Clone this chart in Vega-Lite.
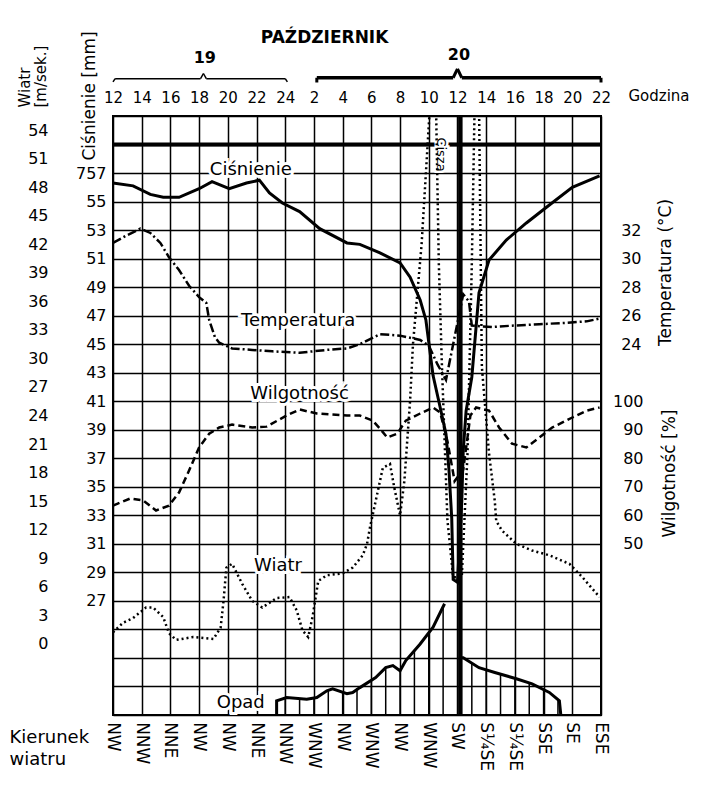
{
  "$schema": "https://vega.github.io/schema/vega-lite/v6.json",
  "width": 488,
  "height": 599,
  "autosize": {"type": "none"},
  "padding": {"left": 113, "top": 116, "right": 118, "bottom": 72},
  "background": "white",
  "config": {
    "font": "DejaVu Sans",
    "view": {"stroke": "black", "strokeWidth": 2},
    "axis": {"labelFont": "DejaVu Sans", "titleFont": "DejaVu Sans", "labelColor": "black", "titleColor": "black", "titleFontWeight": "normal", "domain": false, "ticks": false, "grid": false, "labelFontSize": 16, "titleFontSize": 17, "tickCount": 100, "labelOverlap": false, "labelFlush": false, "format": "d"},
    "text": {"font": "DejaVu Sans", "color": "black"}
  },
  "datasets": {
    "cisnienie": [{"godz":0,"mm":756.3},{"godz":1.4,"mm":756.1},{"godz":2.6,"mm":755.5},{"godz":3.5,"mm":755.3},{"godz":4.6,"mm":755.3},{"godz":6.0,"mm":755.9},{"godz":6.9,"mm":756.4},{"godz":8.1,"mm":755.9},{"godz":9.3,"mm":756.3},{"godz":10.2,"mm":756.5},{"godz":10.9,"mm":755.6},{"godz":11.8,"mm":754.9},{"godz":13.0,"mm":754.3},{"godz":14.4,"mm":753.1},{"godz":16.3,"mm":752.1},{"godz":17.2,"mm":752.0},{"godz":18.6,"mm":751.4},{"godz":20.0,"mm":750.7},{"godz":20.7,"mm":749.7},{"godz":21.4,"mm":748.1},{"godz":21.8,"mm":746.7},{"godz":22.3,"mm":742.8},{"godz":22.7,"mm":741.0},{"godz":23.2,"mm":738.7},{"godz":23.4,"mm":736.3},{"godz":23.6,"mm":732.8},{"godz":23.7,"mm":728.5},{"godz":24.0,"mm":728.3},{"godz":24.3,"mm":734.0},{"godz":24.4,"mm":737.5},{"godz":24.6,"mm":740.3},{"godz":25.0,"mm":742.7},{"godz":25.5,"mm":748.6},{"godz":26.2,"mm":750.9},{"godz":27.4,"mm":752.3},{"godz":28.8,"mm":753.5},{"godz":30.2,"mm":754.6},{"godz":32.0,"mm":756.0},{"godz":33.9,"mm":756.8}],
    "temperatura": [{"godz":0,"st":31.1},{"godz":0.9,"st":31.6},{"godz":1.9,"st":32.1},{"godz":2.6,"st":31.8},{"godz":3.3,"st":31.1},{"godz":3.9,"st":30.1},{"godz":4.6,"st":29.2},{"godz":5.3,"st":28.1},{"godz":6.0,"st":27.3},{"godz":6.5,"st":26.9},{"godz":6.7,"st":25.7},{"godz":7.1,"st":24.5},{"godz":7.4,"st":24.1},{"godz":8.3,"st":23.7},{"godz":9.7,"st":23.6},{"godz":11.1,"st":23.5},{"godz":13.0,"st":23.4},{"godz":14.9,"st":23.6},{"godz":16.3,"st":23.7},{"godz":17.2,"st":24.0},{"godz":18.6,"st":24.7},{"godz":20.0,"st":24.6},{"godz":21.4,"st":24.3},{"godz":22.0,"st":23.9},{"godz":22.6,"st":22.6},{"godz":23.2,"st":21.5},{"godz":23.8,"st":24.5},{"godz":24.4,"st":27.5},{"godz":24.8,"st":27.0},{"godz":25.0,"st":25.3},{"godz":26.4,"st":25.2},{"godz":27.8,"st":25.3},{"godz":29.7,"st":25.4},{"godz":31.6,"st":25.5},{"godz":33.0,"st":25.6},{"godz":33.9,"st":25.8}],
    "wilgotnosc": [{"godz":0,"proc":63.4},{"godz":1.2,"proc":65.9},{"godz":2.1,"proc":65.2},{"godz":3.0,"proc":61.7},{"godz":3.9,"proc":63.4},{"godz":4.6,"proc":68.0},{"godz":5.3,"proc":75.7},{"godz":6.0,"proc":83.8},{"godz":6.7,"proc":88.6},{"godz":7.4,"proc":90.8},{"godz":8.3,"proc":91.8},{"godz":9.7,"proc":90.8},{"godz":10.7,"proc":91.1},{"godz":12.1,"proc":95.0},{"godz":13.0,"proc":97.1},{"godz":14.2,"proc":95.7},{"godz":16.3,"proc":95.0},{"godz":17.2,"proc":95.0},{"godz":18.1,"proc":93.2},{"godz":18.6,"proc":90.4},{"godz":19.1,"proc":87.3},{"godz":19.8,"proc":88.6},{"godz":20.4,"proc":93.2},{"godz":21.4,"proc":95.7},{"godz":22.3,"proc":97.8},{"godz":22.8,"proc":96},{"godz":23.3,"proc":86},{"godz":23.8,"proc":72},{"godz":24.4,"proc":76},{"godz":24.9,"proc":95},{"godz":25.3,"proc":97.8},{"godz":26.2,"proc":96.7},{"godz":26.9,"proc":90.8},{"godz":27.8,"proc":85.1},{"godz":28.8,"proc":83.8},{"godz":29.7,"proc":87.3},{"godz":30.6,"proc":90.8},{"godz":32.0,"proc":94.3},{"godz":33.0,"proc":96.7},{"godz":33.9,"proc":97.8}],
    "wiatr": [{"godz":0,"ms":1.2},{"godz":0.7,"ms":2.2},{"godz":1.4,"ms":2.7},{"godz":2.3,"ms":3.8},{"godz":2.8,"ms":3.8},{"godz":3.5,"ms":2.8},{"godz":3.9,"ms":1.1},{"godz":4.4,"ms":0.4},{"godz":5.6,"ms":0.7},{"godz":7.0,"ms":0.5},{"godz":7.5,"ms":1.7},{"godz":7.7,"ms":4.5},{"godz":7.9,"ms":8.0},{"godz":8.3,"ms":8.4},{"godz":9.0,"ms":6.3},{"godz":9.7,"ms":4.5},{"godz":10.4,"ms":3.8},{"godz":11.4,"ms":4.8},{"godz":12.3,"ms":4.9},{"godz":12.8,"ms":3.5},{"godz":13.2,"ms":1.4},{"godz":13.6,"ms":0.7},{"godz":13.9,"ms":2.8},{"godz":14.3,"ms":6.6},{"godz":14.9,"ms":7.2},{"godz":16.0,"ms":7.4},{"godz":16.7,"ms":8.0},{"godz":17.4,"ms":9.3},{"godz":17.7,"ms":10.5},{"godz":17.9,"ms":12.2},{"godz":18.2,"ms":14.3},{"godz":18.8,"ms":18.5},{"godz":19.3,"ms":18.9},{"godz":19.6,"ms":16.4},{"godz":20.0,"ms":13.5},{"godz":20.3,"ms":17.1},{"godz":20.7,"ms":25.6},{"godz":20.9,"ms":31.5},{"godz":21.5,"ms":42},{"godz":22.1,"ms":57},{"godz":22.5,"ms":57},{"godz":22.7,"ms":40},{"godz":22.9,"ms":30},{"godz":23.3,"ms":13},{"godz":23.7,"ms":7},{"godz":24.3,"ms":7},{"godz":24.7,"ms":20},{"godz":25.0,"ms":40},{"godz":25.2,"ms":57},{"godz":25.5,"ms":57},{"godz":25.7,"ms":29.1},{"godz":26.2,"ms":20},{"godz":26.6,"ms":15.0},{"godz":26.7,"ms":12.9},{"godz":27.1,"ms":11.9},{"godz":28.1,"ms":10.5},{"godz":29.2,"ms":9.8},{"godz":30.4,"ms":9.3},{"godz":31.8,"ms":8.4},{"godz":32.7,"ms":7.0},{"godz":33.9,"ms":4.9}],
    "opad": [{"godz":11.4,"mm":0,"faza":"przed"},{"godz":11.4,"mm":5,"faza":"przed"},{"godz":12.1,"mm":6.1,"faza":"przed"},{"godz":13.5,"mm":5.5,"faza":"przed"},{"godz":14.2,"mm":6.1,"faza":"przed"},{"godz":14.9,"mm":8.5,"faza":"przed"},{"godz":15.3,"mm":9.2,"faza":"przed"},{"godz":16.3,"mm":7.5,"faza":"przed"},{"godz":16.7,"mm":7.9,"faza":"przed"},{"godz":17.2,"mm":9.6,"faza":"przed"},{"godz":18.3,"mm":13.1,"faza":"przed"},{"godz":19.0,"mm":16.6,"faza":"przed"},{"godz":19.5,"mm":17.3,"faza":"przed"},{"godz":20.0,"mm":15.5,"faza":"przed"},{"godz":20.4,"mm":19.1,"faza":"przed"},{"godz":21.4,"mm":24.9,"faza":"przed"},{"godz":22.3,"mm":30.8,"faza":"przed"},{"godz":23.1,"mm":39.0,"faza":"przed"},{"godz":24.2,"mm":20.1,"faza":"po"},{"godz":24.4,"mm":20.1,"faza":"po"},{"godz":25.5,"mm":16.6,"faza":"po"},{"godz":26.6,"mm":14.9,"faza":"po"},{"godz":28.1,"mm":12.7,"faza":"po"},{"godz":29.2,"mm":10.9,"faza":"po"},{"godz":30.4,"mm":7.9,"faza":"po"},{"godz":31.1,"mm":5.0,"faza":"po"},{"godz":31.2,"mm":0,"faza":"po"}],
    "opad_kreski": [{"godz":12,"mm":6.0},{"godz":13,"mm":5.6},{"godz":14,"mm":6.0},{"godz":15,"mm":8.8},{"godz":16,"mm":8.0},{"godz":17,"mm":9.4},{"godz":18,"mm":12.2},{"godz":19,"mm":16.6},{"godz":20,"mm":15.5},{"godz":21,"mm":22.6},{"godz":22,"mm":28.9},{"godz":23,"mm":38.0},{"godz":25,"mm":18.2},{"godz":26,"mm":15.8},{"godz":27,"mm":14.3},{"godz":28,"mm":12.8},{"godz":29,"mm":11.2},{"godz":30,"mm":8.9},{"godz":31,"mm":5.5}],
    "kierunek": [{"godz":0,"kier":"NW"},{"godz":2,"kier":"NNW"},{"godz":4,"kier":"NNE"},{"godz":6,"kier":"NW"},{"godz":8,"kier":"NW"},{"godz":10,"kier":"NNE"},{"godz":12,"kier":"NNW"},{"godz":14,"kier":"WNW"},{"godz":16,"kier":"NW"},{"godz":18,"kier":"WNW"},{"godz":20,"kier":"NW"},{"godz":22,"kier":"WNW"},{"godz":24,"kier":"SW"},{"godz":26,"kier":"S¼SE"},{"godz":28,"kier":"S¼SE"},{"godz":30,"kier":"SSE"},{"godz":32,"kier":"SE"},{"godz":34,"kier":"ESE"}]
  },
  "layer": [
    {
      "layer": [
        {
          "data": {"name": "cisnienie"},
          "mark": {"type": "line", "color": "black", "strokeWidth": 3},
          "encoding": {
            "x": {"field": "godz", "type": "quantitative", "scale": {"domain": [0, 34], "nice": false, "zero": false},
              "axis": {"orient": "top", "values": [0,2,4,6,8,10,12,14,16,18,20,22,24,26,28,30,32,34], "tickCount": 100, "labelFlush": false, "labelExpr": "datum.value <= 12 ? datum.value + 12 : datum.value - 12", "grid": true, "gridColor": "black", "gridWidth": 1.5, "gridOpacity": 1, "labelPadding": 11, "labelFontSize": 15, "title": "Godzina", "titleX": 515, "titleY": -21, "titleAlign": "left", "titleBaseline": "middle", "titleFontSize": 15}},
            "y": {"field": "mm", "type": "quantitative", "scale": {"domain": [719, 761], "nice": false, "zero": false},
              "axis": {"orient": "left", "values": [719,721,723,725,727,729,731,733,735,737,739,741,743,745,747,749,751,753,755,757,759,761], "tickCount": 100, "format": "d", "labelExpr": "datum.value < 727 || datum.value > 757 ? '' : (datum.value == 757 ? datum.label : slice(datum.label, 1))", "grid": true, "gridColor": "black", "gridWidth": 1.5, "gridOpacity": 1, "labelPadding": 7, "title": "Ciśnienie [mm]", "titleAngle": 270, "titleX": -24, "titleY": 44, "titleAlign": "left", "titleBaseline": "middle"}}
          }
        },
        {"data": {"values": [{}]}, "mark": {"type": "rule", "color": "black", "strokeWidth": 4}, "encoding": {"y": {"datum": 759, "type": "quantitative"}}},
        {"data": {"values": [{}]}, "mark": {"type": "rule", "color": "black", "strokeWidth": 4.5}, "encoding": {"x": {"datum": 24.2, "type": "quantitative"}}},
        {"data": {"values": [{}]}, "mark": {"type": "text", "fontSize": 18, "stroke": "white", "strokeWidth": 6, "fill": "white"}, "encoding": {"x": {"datum": 9.6, "type": "quantitative"}, "y": {"datum": 757.2, "type": "quantitative"}, "text": {"value": "Ciśnienie"}}},
        {"data": {"values": [{}]}, "mark": {"type": "text", "fontSize": 18}, "encoding": {"x": {"datum": 9.6, "type": "quantitative"}, "y": {"datum": 757.2, "type": "quantitative"}, "text": {"value": "Ciśnienie"}}},
        {"data": {"values": [{}]}, "mark": {"type": "text", "fontSize": 13, "angle": 90, "align": "left", "baseline": "middle", "stroke": "white", "strokeWidth": 5, "fill": "white"}, "encoding": {"x": {"datum": 22.85, "type": "quantitative"}, "y": {"datum": 759.5, "type": "quantitative"}, "text": {"value": "Cisza"}}},
        {"data": {"values": [{}]}, "mark": {"type": "text", "fontSize": 13, "angle": 90, "align": "left", "baseline": "middle"}, "encoding": {"x": {"datum": 22.85, "type": "quantitative"}, "y": {"datum": 759.5, "type": "quantitative"}, "text": {"value": "Cisza"}}},
        {"data": {"values": [{}]}, "mark": {"type": "text", "fontSize": 17, "fontWeight": "bold"}, "encoding": {"x": {"datum": 14.74, "type": "quantitative"}, "y": {"datum": 766.45, "type": "quantitative"}, "text": {"value": "PAŹDZIERNIK"}}},
        {"data": {"values": [{}]}, "mark": {"type": "text", "fontSize": 16, "fontWeight": "bold"}, "encoding": {"x": {"datum": 6.4, "type": "quantitative"}, "y": {"datum": 765.1, "type": "quantitative"}, "text": {"value": "19"}}},
        {"data": {"values": [{}]}, "mark": {"type": "text", "fontSize": 16, "fontWeight": "bold"}, "encoding": {"x": {"datum": 24.1, "type": "quantitative"}, "y": {"datum": 765.25, "type": "quantitative"}, "text": {"value": "20"}}},
        {"data": {"values": [{}]}, "mark": {"type": "rule", "color": "black", "strokeWidth": 1.5}, "encoding": {"x": {"datum": 0.15, "type": "quantitative"}, "x2": {"datum": 6.1}, "y": {"datum": 763.62, "type": "quantitative"}}},
        {"data": {"values": [{}]}, "mark": {"type": "rule", "color": "black", "strokeWidth": 1.5}, "encoding": {"x": {"datum": 6.5, "type": "quantitative"}, "x2": {"datum": 12.0}, "y": {"datum": 763.62, "type": "quantitative"}}},
        {"data": {"values": [{}]}, "mark": {"type": "rule", "color": "black", "strokeWidth": 1.5}, "encoding": {"x": {"datum": 0, "type": "quantitative"}, "x2": {"datum": 0.15}, "y": {"datum": 763.39, "type": "quantitative"}, "y2": {"datum": 763.62}}},
        {"data": {"values": [{}]}, "mark": {"type": "rule", "color": "black", "strokeWidth": 1.5}, "encoding": {"x": {"datum": 12.0, "type": "quantitative"}, "x2": {"datum": 12.15}, "y": {"datum": 763.62, "type": "quantitative"}, "y2": {"datum": 763.39}}},
        {"data": {"values": [{}]}, "mark": {"type": "rule", "color": "black", "strokeWidth": 1.5}, "encoding": {"x": {"datum": 6.1, "type": "quantitative"}, "x2": {"datum": 6.3}, "y": {"datum": 763.62, "type": "quantitative"}, "y2": {"datum": 763.98}}},
        {"data": {"values": [{}]}, "mark": {"type": "rule", "color": "black", "strokeWidth": 1.5}, "encoding": {"x": {"datum": 6.3, "type": "quantitative"}, "x2": {"datum": 6.5}, "y": {"datum": 763.98, "type": "quantitative"}, "y2": {"datum": 763.62}}},
        {"data": {"values": [{}]}, "mark": {"type": "rule", "color": "black", "strokeWidth": 3.5}, "encoding": {"x": {"datum": 14.2, "type": "quantitative"}, "x2": {"datum": 23.7}, "y": {"datum": 763.68, "type": "quantitative"}}},
        {"data": {"values": [{}]}, "mark": {"type": "rule", "color": "black", "strokeWidth": 3.5}, "encoding": {"x": {"datum": 24.3, "type": "quantitative"}, "x2": {"datum": 34.0}, "y": {"datum": 763.68, "type": "quantitative"}}},
        {"data": {"values": [{}]}, "mark": {"type": "rule", "color": "black", "strokeWidth": 3}, "encoding": {"x": {"datum": 23.7, "type": "quantitative"}, "x2": {"datum": 24.0}, "y": {"datum": 763.68, "type": "quantitative"}, "y2": {"datum": 764.3}}},
        {"data": {"values": [{}]}, "mark": {"type": "rule", "color": "black", "strokeWidth": 3}, "encoding": {"x": {"datum": 24.0, "type": "quantitative"}, "x2": {"datum": 24.3}, "y": {"datum": 764.3, "type": "quantitative"}, "y2": {"datum": 763.68}}},
        {"data": {"values": [{}]}, "mark": {"type": "rule", "color": "black", "strokeWidth": 3}, "encoding": {"x": {"datum": 14.2, "type": "quantitative"}, "y": {"datum": 763.35, "type": "quantitative"}, "y2": {"datum": 763.68}}},
        {"data": {"values": [{}]}, "mark": {"type": "rule", "color": "black", "strokeWidth": 3}, "encoding": {"x": {"datum": 34.0, "type": "quantitative"}, "y": {"datum": 763.35, "type": "quantitative"}, "y2": {"datum": 763.68}}}
      ]
    },
    {
      "layer": [
        {
          "data": {"name": "wiatr"},
          "mark": {"type": "line", "color": "black", "strokeWidth": 2.5, "strokeDash": [2, 3], "clip": true},
          "encoding": {
            "x": {"field": "godz", "type": "quantitative", "axis": null},
            "y": {"field": "ms", "type": "quantitative", "scale": {"domain": [-7.5, 55.5], "nice": false, "zero": false},
              "axis": {"orient": "left", "offset": 60, "values": [0,3,6,9,12,15,18,21,24,27,30,33,36,39,42,45,48,51,54], "tickCount": 100, "format": "d", "labelAlign": "right", "labelPadding": 5, "title": ["Wiatr", "[m/sek.]"], "titleAngle": 270, "titleX": -29, "titleY": -9, "titleAlign": "left", "titleBaseline": "middle", "titleFontSize": 15, "titleLineHeight": 16}}
          }
        },
        {"data": {"values": [{}]}, "mark": {"type": "text", "fontSize": 18, "stroke": "white", "strokeWidth": 6, "fill": "white"}, "encoding": {"x": {"datum": 11.5, "type": "quantitative", "axis": null}, "y": {"datum": 8.2, "type": "quantitative"}, "text": {"value": "Wiatr"}}},
        {"data": {"values": [{}]}, "mark": {"type": "text", "fontSize": 18}, "encoding": {"x": {"datum": 11.5, "type": "quantitative", "axis": null}, "y": {"datum": 8.2, "type": "quantitative"}, "text": {"value": "Wiatr"}}}
      ]
    },
    {
      "layer": [
        {
          "data": {"name": "temperatura"},
          "mark": {"type": "line", "color": "black", "strokeWidth": 2.5, "strokeDash": [9, 3, 2, 3]},
          "encoding": {
            "x": {"field": "godz", "type": "quantitative", "axis": null},
            "y": {"field": "st", "type": "quantitative", "scale": {"domain": [-2, 40], "nice": false, "zero": false},
              "axis": {"orient": "right", "values": [24, 26, 28, 30, 32], "format": "d", "labelAlign": "right", "labelPadding": 40, "title": "Temperatura (°C)", "titleAngle": 270, "titleX": 64, "titleY": 156, "titleAlign": "center", "titleBaseline": "middle"}}
          }
        },
        {"data": {"values": [{}]}, "mark": {"type": "text", "fontSize": 18, "stroke": "white", "strokeWidth": 6, "fill": "white"}, "encoding": {"x": {"datum": 12.9, "type": "quantitative", "axis": null}, "y": {"datum": 25.66, "type": "quantitative"}, "text": {"value": "Temperatura"}}},
        {"data": {"values": [{}]}, "mark": {"type": "text", "fontSize": 18}, "encoding": {"x": {"datum": 12.9, "type": "quantitative", "axis": null}, "y": {"datum": 25.66, "type": "quantitative"}, "text": {"value": "Temperatura"}}}
      ]
    },
    {
      "layer": [
        {
          "data": {"name": "wilgotnosc"},
          "mark": {"type": "line", "color": "black", "strokeWidth": 2.5, "strokeDash": [7, 4]},
          "encoding": {
            "x": {"field": "godz", "type": "quantitative", "axis": null},
            "y": {"field": "proc", "type": "quantitative", "scale": {"domain": [-10, 200], "nice": false, "zero": false},
              "axis": {"orient": "right", "values": [50, 60, 70, 80, 90, 100], "format": "d", "labelAlign": "right", "labelPadding": 42, "title": "Wilgotność [%]", "titleAngle": 270, "titleX": 68, "titleY": 357, "titleAlign": "center", "titleBaseline": "middle"}}
          }
        },
        {"data": {"values": [{}]}, "mark": {"type": "text", "fontSize": 18, "stroke": "white", "strokeWidth": 6, "fill": "white"}, "encoding": {"x": {"datum": 13.0, "type": "quantitative", "axis": null}, "y": {"datum": 102.4, "type": "quantitative"}, "text": {"value": "Wilgotność"}}},
        {"data": {"values": [{}]}, "mark": {"type": "text", "fontSize": 18}, "encoding": {"x": {"datum": 13.0, "type": "quantitative", "axis": null}, "y": {"datum": 102.4, "type": "quantitative"}, "text": {"value": "Wilgotność"}}}
      ]
    },
    {
      "layer": [
        {
          "data": {"name": "opad_kreski"},
          "mark": {"type": "rule", "color": "black", "strokeWidth": 1.5},
          "encoding": {
            "x": {"field": "godz", "type": "quantitative", "axis": {"orient": "bottom", "labels": false, "title": ["Kierunek", "wiatru"], "titleX": -104, "titleY": 13, "titleAlign": "left", "titleBaseline": "top", "titleFontSize": 18, "titleLineHeight": 22}},
            "y": {"field": "mm", "type": "quantitative", "scale": {"domain": [0, 210], "nice": false, "zero": false}, "axis": null},
            "y2": {"datum": 0}
          }
        },
        {
          "data": {"name": "opad"},
          "mark": {"type": "line", "color": "black", "strokeWidth": 3},
          "encoding": {
            "x": {"field": "godz", "type": "quantitative"},
            "y": {"field": "mm", "type": "quantitative", "axis": null},
            "detail": {"field": "faza"}
          }
        },
        {"data": {"values": [{}]}, "mark": {"type": "text", "fontSize": 18, "stroke": "white", "strokeWidth": 6, "fill": "white"}, "encoding": {"x": {"datum": 8.9, "type": "quantitative"}, "y": {"datum": 4.3, "type": "quantitative", "axis": null}, "text": {"value": "Opad"}}},
        {"data": {"values": [{}]}, "mark": {"type": "text", "fontSize": 18}, "encoding": {"x": {"datum": 8.9, "type": "quantitative"}, "y": {"datum": 4.3, "type": "quantitative", "axis": null}, "text": {"value": "Opad"}}},
        {
          "data": {"name": "kierunek"},
          "mark": {"type": "text", "fontSize": 17, "angle": 90, "align": "left", "baseline": "middle"},
          "encoding": {
            "x": {"field": "godz", "type": "quantitative"},
            "y": {"datum": -2.5, "type": "quantitative", "axis": null},
            "text": {"field": "kier"}
          }
        }
      ]
    }
  ],
  "resolve": {"scale": {"y": "independent"}, "axis": {"y": "independent", "x": "independent"}}
}
